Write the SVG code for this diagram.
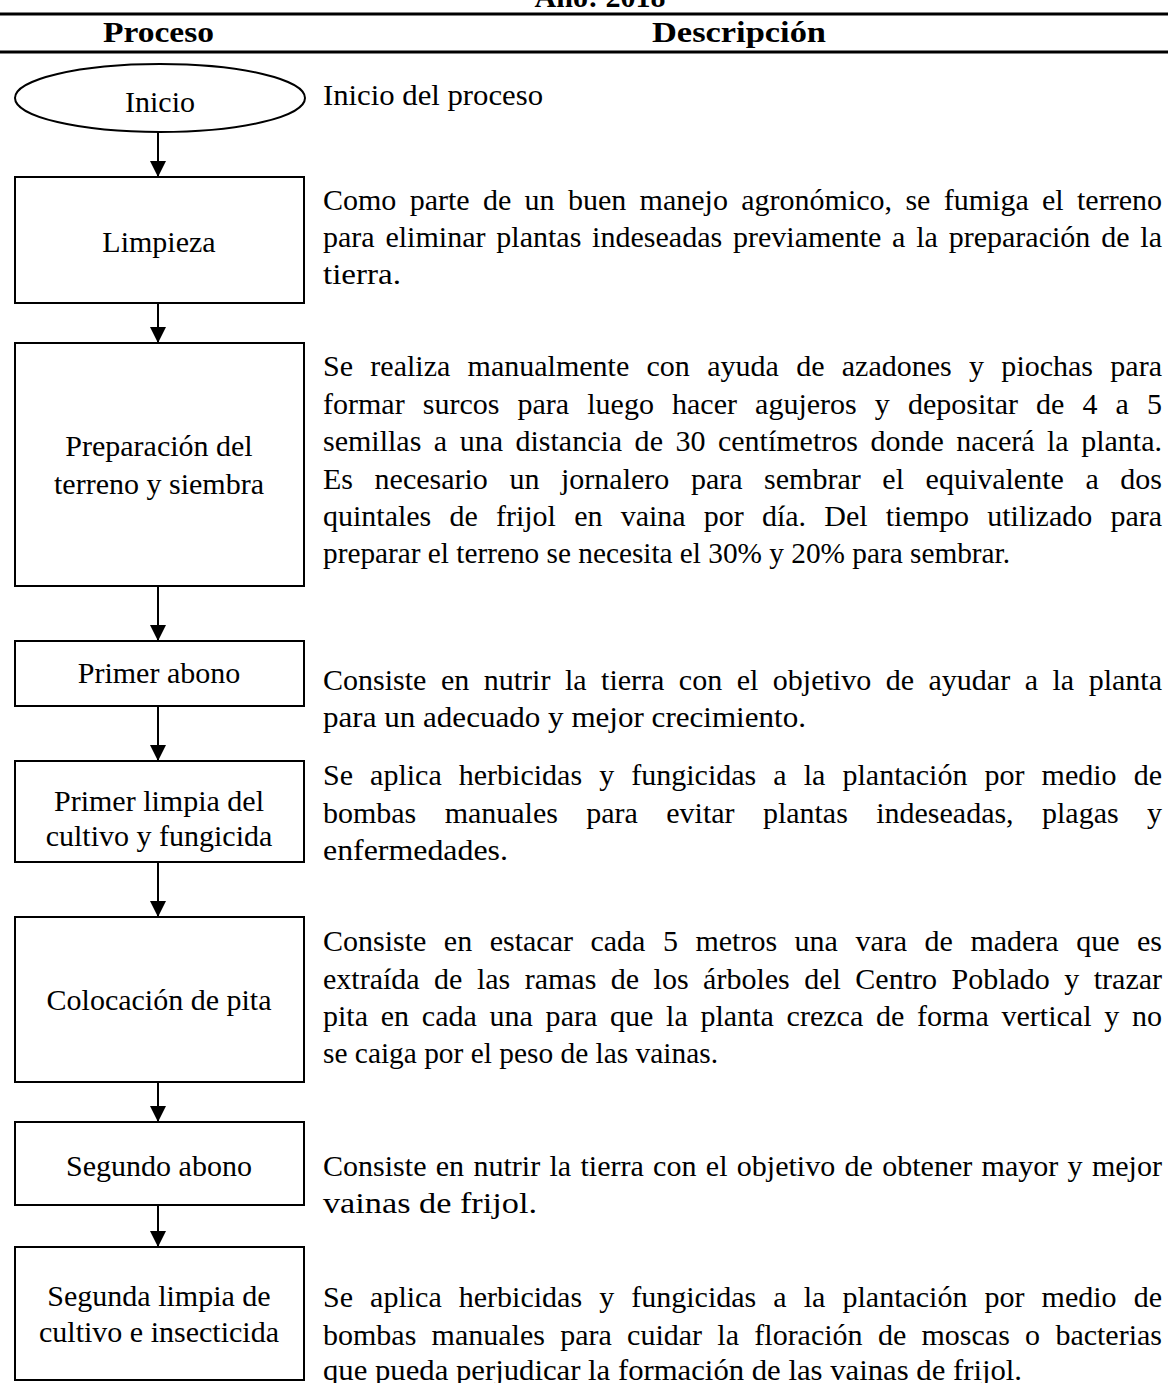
<svg xmlns="http://www.w3.org/2000/svg" width="1168" height="1383" viewBox="0 0 1168 1383">
<defs>
<style>
text{font-family:"Liberation Serif","Times New Roman",serif;fill:#000;}
.h{font-size:30px;font-weight:bold;}
.lbl{font-size:30px;text-anchor:middle;}
.d{font-size:30px;}
.box{fill:#fff;stroke:#000;stroke-width:2;}
.rule{stroke:#000;stroke-width:3;}
.conn line{stroke:#000;stroke-width:2;}
</style>
<marker id="ah" viewBox="0 0 16 16" refX="16" refY="8" markerWidth="16" markerHeight="16" markerUnits="userSpaceOnUse" orient="auto">
<path d="M0,0 L16,8 L0,16 Z" fill="#000"/>
</marker>
</defs>
<rect width="1168" height="1383" fill="#fff"/>
<g id="header">
<text class="h" x="600" y="7" text-anchor="middle" font-size="26">Año: 2018</text>
<line class="rule" x1="0" y1="14" x2="1168" y2="14"/>
<text class="h" x="103" y="42" textLength="111" lengthAdjust="spacingAndGlyphs">Proceso</text>
<text class="h" x="652" y="42" textLength="174" lengthAdjust="spacingAndGlyphs">Descripción</text>
<line class="rule" x1="0" y1="52" x2="1168" y2="52"/>
</g>
<g class="conn" id="connectors">
<line x1="158" y1="132" x2="158" y2="177" marker-end="url(#ah)"/>
<line x1="158" y1="303" x2="158" y2="343" marker-end="url(#ah)"/>
<line x1="158" y1="586" x2="158" y2="641" marker-end="url(#ah)"/>
<line x1="158" y1="706" x2="158" y2="761" marker-end="url(#ah)"/>
<line x1="158" y1="862" x2="158" y2="917" marker-end="url(#ah)"/>
<line x1="158" y1="1082" x2="158" y2="1122" marker-end="url(#ah)"/>
<line x1="158" y1="1205" x2="158" y2="1247" marker-end="url(#ah)"/>
</g>
<g id="n-inicio">
<ellipse class="box" cx="160" cy="98" rx="145" ry="34"/>
<text class="lbl" x="160" y="112">Inicio</text>
<text class="d" x="323" y="105" textLength="220" lengthAdjust="spacingAndGlyphs">Inicio del proceso</text>
</g>
<g id="n-limpieza">
<rect class="box" x="15" y="177" width="289" height="126"/>
<text class="lbl" x="159" y="252">Limpieza</text>
<text class="d" x="323" y="210" word-spacing="5.8" textLength="839" lengthAdjust="spacingAndGlyphs">Como parte de un buen manejo agronómico, se fumiga el terreno</text>
<text class="d" x="323" y="247" word-spacing="3.3" textLength="839" lengthAdjust="spacingAndGlyphs">para eliminar plantas indeseadas previamente a la preparación de la</text>
<text class="d" x="323" y="284" textLength="78" lengthAdjust="spacingAndGlyphs">tierra.</text>
</g>
<g id="n-preparacion">
<rect class="box" x="15" y="343" width="289" height="243"/>
<text class="lbl" x="159" y="456">Preparación del</text>
<text class="lbl" x="159" y="494">terreno y siembra</text>
<text class="d" x="323" y="376" word-spacing="9.8" textLength="839" lengthAdjust="spacingAndGlyphs">Se realiza manualmente con ayuda de azadones y piochas para</text>
<text class="d" x="323" y="414" word-spacing="10.6" textLength="839" lengthAdjust="spacingAndGlyphs">formar surcos para luego hacer agujeros y depositar de 4 a 5</text>
<text class="d" x="323" y="451" word-spacing="5" textLength="839" lengthAdjust="spacingAndGlyphs">semillas a una distancia de 30 centímetros donde nacerá la planta.</text>
<text class="d" x="323" y="489" word-spacing="14.1" textLength="839" lengthAdjust="spacingAndGlyphs">Es necesario un jornalero para sembrar el equivalente a dos</text>
<text class="d" x="323" y="526" word-spacing="10.7" textLength="839" lengthAdjust="spacingAndGlyphs">quintales de frijol en vaina por día. Del tiempo utilizado para</text>
<text class="d" x="323" y="563" textLength="687" lengthAdjust="spacingAndGlyphs">preparar el terreno se necesita el 30% y 20% para sembrar.</text>
</g>
<g id="n-primer-abono">
<rect class="box" x="15" y="641" width="289" height="65"/>
<text class="lbl" x="159" y="683">Primer abono</text>
<text class="d" x="323" y="690" word-spacing="7" textLength="839" lengthAdjust="spacingAndGlyphs">Consiste en nutrir la tierra con el objetivo de ayudar a la planta</text>
<text class="d" x="323" y="727" textLength="483" lengthAdjust="spacingAndGlyphs">para un adecuado y mejor crecimiento.</text>
</g>
<g id="n-primer-limpia">
<rect class="box" x="15" y="761" width="289" height="101"/>
<text class="lbl" x="159" y="811">Primer limpia del</text>
<text class="lbl" x="159" y="846">cultivo y fungicida</text>
<text class="d" x="323" y="785" word-spacing="9.6" textLength="839" lengthAdjust="spacingAndGlyphs">Se aplica herbicidas y fungicidas a la plantación por medio de</text>
<text class="d" x="323" y="823" word-spacing="20.9" textLength="839" lengthAdjust="spacingAndGlyphs">bombas manuales para evitar plantas indeseadas, plagas y</text>
<text class="d" x="323" y="860" textLength="185" lengthAdjust="spacingAndGlyphs">enfermedades.</text>
</g>
<g id="n-colocacion">
<rect class="box" x="15" y="917" width="289" height="165"/>
<text class="lbl" x="159" y="1010">Colocación de pita</text>
<text class="d" x="323" y="951" word-spacing="10" textLength="839" lengthAdjust="spacingAndGlyphs">Consiste en estacar cada 5 metros una vara de madera que es</text>
<text class="d" x="323" y="989" word-spacing="7" textLength="839" lengthAdjust="spacingAndGlyphs">extraída de las ramas de los árboles del Centro Poblado y trazar</text>
<text class="d" x="323" y="1026" word-spacing="5.2" textLength="839" lengthAdjust="spacingAndGlyphs">pita en cada una para que la planta crezca de forma vertical y no</text>
<text class="d" x="323" y="1063" textLength="395" lengthAdjust="spacingAndGlyphs">se caiga por el peso de las vainas.</text>
</g>
<g id="n-segundo-abono">
<rect class="box" x="15" y="1122" width="289" height="83"/>
<text class="lbl" x="159" y="1176">Segundo abono</text>
<text class="d" x="323" y="1176" word-spacing="1.8" textLength="839" lengthAdjust="spacingAndGlyphs">Consiste en nutrir la tierra con el objetivo de obtener mayor y mejor</text>
<text class="d" x="323" y="1213" textLength="214" lengthAdjust="spacingAndGlyphs">vainas de frijol.</text>
</g>
<g id="n-segunda-limpia">
<rect class="box" x="15" y="1247" width="289" height="133"/>
<text class="lbl" x="159" y="1306">Segunda limpia de</text>
<text class="lbl" x="159" y="1342">cultivo e insecticida</text>
<text class="d" x="323" y="1307" word-spacing="9.6" textLength="839" lengthAdjust="spacingAndGlyphs">Se aplica herbicidas y fungicidas a la plantación por medio de</text>
<text class="d" x="323" y="1345" word-spacing="7.8" textLength="839" lengthAdjust="spacingAndGlyphs">bombas manuales para cuidar la floración de moscas o bacterias</text>
<text class="d" x="323" y="1380" textLength="699" lengthAdjust="spacingAndGlyphs">que pueda perjudicar la formación de las vainas de frijol.</text>
</g>
</svg>
